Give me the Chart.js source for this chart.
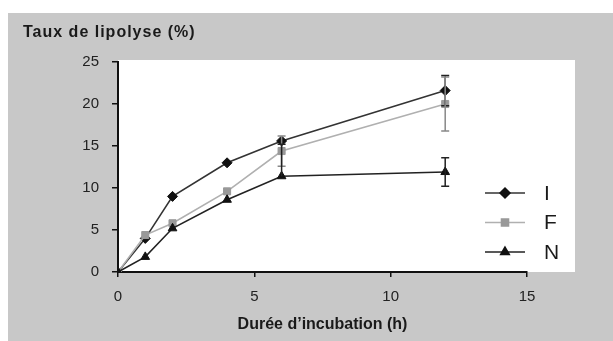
<!DOCTYPE html>
<html><head><meta charset="utf-8">
<script src="https://cdn.jsdelivr.net/npm/chart.js@4"></script>
<style>html,body{margin:0;padding:0;background:#fff;}#wrap{width:613px;height:341px;position:relative;}</style>
</head><body><div id="wrap"><canvas id="c" width="613" height="341"></canvas></div>
<script>
const hours = [0, 1, 2, 4, 6, 12];
const seriesI = [0, 4.0, 9.0, 13.0, 15.6, 21.6];
const seriesF = [0, 4.4, 5.8, 9.6, 14.4, 20.0];
const seriesN = [0, 1.8, 5.2, 8.6, 11.4, 11.9];
// error bars [minus, plus] per point
const errI = [[0,0],[0,0],[0,0],[0,0],[0,0],[1.8,1.8]];
const errF = [[0,0],[0,0],[0,0],[0,0],[1.8,1.8],[3.2,3.2]];
const errN = [[0,0],[0,0],[0,0],[0,0],[0,3.8],[1.7,1.7]];
const xTicks = [0, 5, 10, 15];
const yTicks = [0, 5, 10, 15, 20, 25];
const labels = ['I', 'F', 'N'];
const yTitle = 'Taux de lipolyse (%)';
const xTitle = 'Durée d\u2019incubation (h)';

const FONT = '"Liberation Sans", Arial, sans-serif';
function pts(v){ return hours.map((h,i)=>({x:h,y:v[i]})); }

const styles = [
  {line:'#333', pt:'#111', shape:'rectRot', r:5, err:'#222'},
  {line:'#b0b0b0', pt:'#999', shape:'rect', r:5, err:'#888'},
  {line:'#222', pt:'#111', shape:'triangle', r:5, err:'#222'}
];
const values = [seriesI, seriesF, seriesN];
const errs = [errI, errF, errN];

const bgPlugin = {
  id:'bg',
  beforeDraw(chart){
    const {ctx, chartArea:a} = chart;
    ctx.save();
    ctx.fillStyle = '#c8c8c8';
    ctx.fillRect(8, 13, chart.width-8, chart.height-13);
    ctx.fillStyle = '#ffffff';
    ctx.fillRect(a.left, a.top-2, (a.right-a.left)+48, a.bottom-a.top+2);
    ctx.restore();
  }
};
const extraPlugin = {
  id:'extra',
  afterDatasetsDraw(chart){
    const {ctx} = chart;
    const xs = chart.scales.x, ys = chart.scales.y;
    ctx.save();
    errs.forEach((e,di)=>{
      ctx.strokeStyle = styles[di].err; ctx.lineWidth = 1.5;
      e.forEach((pm,i)=>{
        if(!pm[0] && !pm[1]) return;
        const px = xs.getPixelForValue(hours[i]);
        const lo = ys.getPixelForValue(values[di][i]-pm[0]);
        const hi = ys.getPixelForValue(values[di][i]+pm[1]);
        ctx.beginPath(); ctx.moveTo(px, lo); ctx.lineTo(px, hi);
        if(pm[1]){ ctx.moveTo(px-4, hi); ctx.lineTo(px+4, hi); }
        if(pm[0]){ ctx.moveTo(px-4, lo); ctx.lineTo(px+4, lo); }
        ctx.stroke();
      });
    });
    ctx.restore();
  },
  afterDraw(chart){
    const {ctx, chartArea:a} = chart;
    ctx.save();
    ctx.fillStyle = '#1a1a1a';
    ctx.font = 'bold 16px ' + FONT;
    ctx.letterSpacing = '1px';
    ctx.textBaseline = 'middle'; ctx.textAlign = 'left';
    ctx.fillText(yTitle, 23, 33);
    ctx.letterSpacing = '0px';
    labels.forEach((lab,i)=>{
      const y = a.top + 131 + i*29.5;
      const x0 = a.right - 42, x1 = a.right - 2, xm = (x0+x1)/2;
      ctx.strokeStyle = styles[i].line; ctx.lineWidth = 1.5;
      ctx.beginPath(); ctx.moveTo(x0,y); ctx.lineTo(x1,y); ctx.stroke();
      ctx.fillStyle = styles[i].pt; ctx.strokeStyle = styles[i].pt;
      Chart.helpers.drawPoint(ctx, {pointStyle:styles[i].shape, radius:styles[i].r, borderWidth:1}, xm, y);
      ctx.fillStyle = '#1a1a1a';
      ctx.font = '21px ' + FONT;
      ctx.fillText(lab, a.right + 17, y+1);
    });
    ctx.restore();
  }
};

new Chart(document.getElementById('c'), {
  type:'line',
  data:{
    datasets: values.map((v,i)=>({
      label: labels[i], data: pts(v),
      borderColor: styles[i].line, borderWidth: 1.6,
      pointStyle: styles[i].shape, pointRadius: styles[i].r,
      pointBackgroundColor: styles[i].pt, pointBorderColor: styles[i].pt,
      pointBorderWidth: 1, tension: 0, fill:false
    })).reverse()
  },
  options:{
    responsive:false, animation:false,
    layout:{padding:{left:0, top:62, right:86, bottom:0}},
    plugins:{legend:{display:false}, tooltip:{enabled:false}},
    scales:{
      x:{type:'linear', min:0, max:15,
        afterBuildTicks(s){ s.ticks = xTicks.map(v=>({value:v})); },
        afterFit(s){ s.height = 69; },
        grid:{drawOnChartArea:false, drawTicks:true, tickLength:5, color:'#111', lineWidth:1.5},
        border:{display:true, color:'#111', width:2},
        ticks:{font:{family:FONT, size:15}, color:'#222', padding:11, maxRotation:0},
        title:{display:true, text:xTitle, font:{family:FONT, size:16, weight:'bold'}, color:'#1a1a1a', padding:{top:2,bottom:7}}
      },
      y:{type:'linear', min:0, max:25,
        afterBuildTicks(s){ s.ticks = yTicks.map(v=>({value:v})); },
        afterFit(s){ s.width = 118; },
        grid:{drawOnChartArea:false, drawTicks:true, tickLength:6, color:'#111', lineWidth:1.5},
        border:{display:true, color:'#111', width:2},
        ticks:{font:{family:FONT, size:15}, color:'#222', padding:13}
      }
    }
  },
  plugins:[bgPlugin, extraPlugin]
});
</script></body></html>
